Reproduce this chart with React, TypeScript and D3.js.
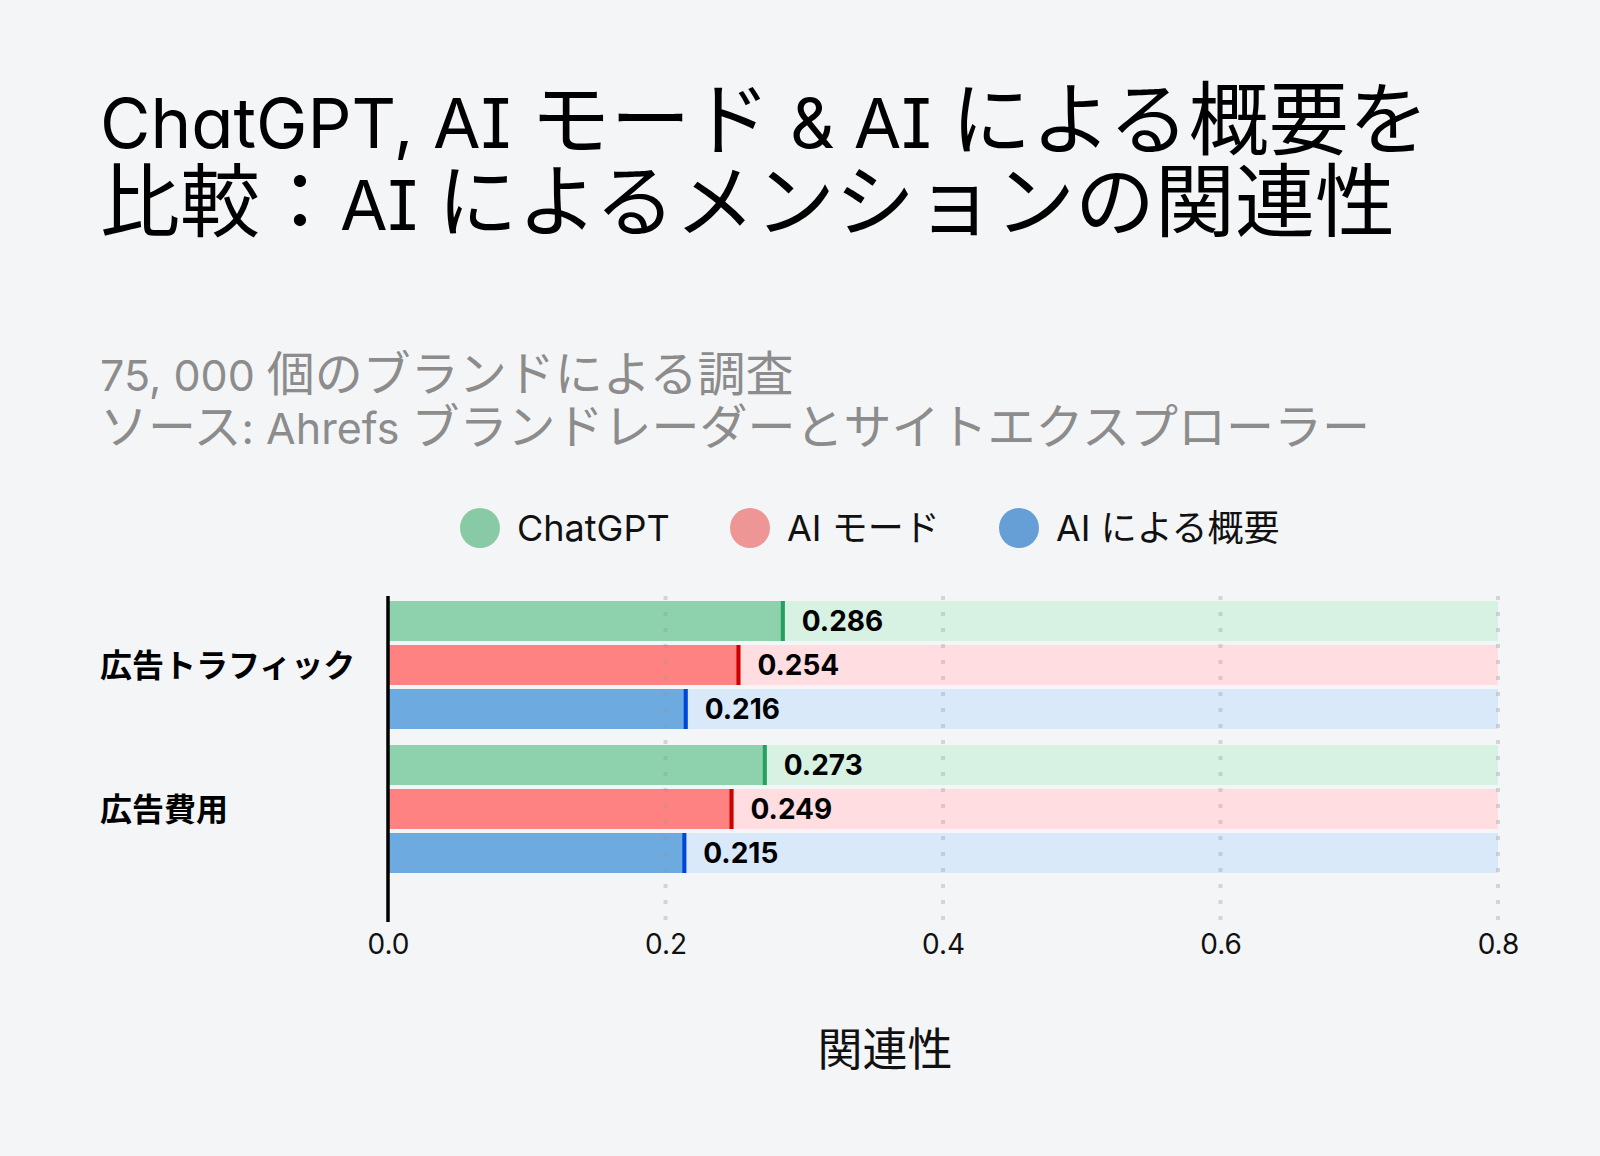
import React, { useEffect, useRef } from 'react';
import * as d3 from 'd3';

const titleLines = ['ChatGPT, AI モード & AI による概要を', '比較：AI によるメンションの関連性'];
const subtitleLines = ['75, 000 個のブランドによる調査', 'ソース: Ahrefs ブランドレーダーとサイトエクスプローラー'];
const categories = ['広告トラフィック', '広告費用'];
const seriesNames = ['ChatGPT', 'AI モード', 'AI による概要'];
const chatgptValues = [0.286, 0.273];
const aiModeValues = [0.254, 0.249];
const aiOverviewValues = [0.216, 0.215];
const xTicks = [0.0, 0.2, 0.4, 0.6, 0.8];

const barColors = ['#8ed1ad', '#ff8282', '#6caae0'];
const edgeColors = ['#25a060', '#d00000', '#0047d9'];
const trackColors = ['#d7f1e3', '#ffdde0', '#d9e9f9'];
const legendColors = ['#88c9a6', '#ee9595', '#669fd5'];

const WIDTH = 1600;
const HEIGHT = 1156;
const FONT = "Inter, 'Noto Sans CJK JP', sans-serif";
const CJK_FONT = "'Noto Sans CJK JP', sans-serif";

// split a string into latin / cjk runs so each can get its own font
function splitRuns(s: string) {
  const runs: { text: string; latin: boolean }[] = [];
  for (const ch of s) {
    const latin = ch.charCodeAt(0) < 0x2000;
    const last = runs[runs.length - 1];
    if (last && last.latin === latin) last.text += ch;
    else runs.push({ text: ch, latin });
  }
  return runs;
}

function App() {
  const svgRef = useRef<SVGSVGElement>(null);

  useEffect(() => {
    if (!svgRef.current) return;
    const svg = d3.select(svgRef.current);
    svg.selectAll('*').remove();

    svg.append('rect')
      .attr('width', WIDTH)
      .attr('height', HEIGHT)
      .attr('fill', '#f4f5f7');

    const mixedText = (line: string, y: number, latinSize: number, cjkSize: number, color: string) => {
      const t = svg.append('text')
        .attr('x', 100)
        .attr('y', y)
        .attr('fill', color);
      splitRuns(line).forEach(r => {
        t.append('tspan')
          .attr('font-family', r.latin ? FONT : CJK_FONT)
          .attr('font-size', r.latin ? latinSize : cjkSize)
          .style('font-feature-settings', r.latin ? '"cv08", "cv11"' : 'normal')
          .style('white-space', 'pre')
          .text(r.text);
      });
    };

    // Title
    titleLines.forEach((line, i) => mixedText(line, 148 + i * 82, 69, 80, '#000'));

    // Subtitle
    subtitleLines.forEach((line, i) => mixedText(line, 391 + i * 53, 43, 48, '#8c8c8c'));

    // Legend
    const legendX = [480, 750, 1019];
    seriesNames.forEach((name, i) => {
      svg.append('circle')
        .attr('cx', legendX[i])
        .attr('cy', 528)
        .attr('r', 20)
        .attr('fill', legendColors[i]);
      svg.append('text')
        .attr('x', legendX[i] + 37)
        .attr('y', 528)
        .attr('dy', '0.35em')
        .attr('font-family', FONT)
        .attr('font-size', 36)
        .attr('fill', '#111')
        .text(name);
    });

    // Scales
    const x = d3.scaleLinear().domain([0, 0.8]).range([388, 1498]);
    const y0 = d3.scaleBand<string>()
      .domain(categories)
      .range([593, 881])
      .paddingInner(16 / 144)
      .paddingOuter(8 / 144);
    const y1 = d3.scaleBand<string>()
      .domain(seriesNames)
      .range([0, y0.bandwidth()])
      .paddingInner(4 / 44);

    const valuesBySeries = [chatgptValues, aiModeValues, aiOverviewValues];
    const rows = categories.flatMap((cat, ci) =>
      seriesNames.map((s, si) => ({ cat, s, si, value: valuesBySeries[si][ci] }))
    );

    const g = svg.append('g');
    const rowY = (d: { cat: string; s: string }) => (y0(d.cat) ?? 0) + (y1(d.s) ?? 0);

    // Track backgrounds
    g.selectAll('.track')
      .data(rows)
      .enter().append('rect')
      .attr('x', x(0))
      .attr('y', rowY)
      .attr('width', x(0.8) - x(0))
      .attr('height', y1.bandwidth())
      .attr('fill', d => trackColors[d.si]);

    // Bars
    g.selectAll('.bar')
      .data(rows)
      .enter().append('rect')
      .attr('x', x(0))
      .attr('y', rowY)
      .attr('width', d => x(d.value) - x(0))
      .attr('height', y1.bandwidth())
      .attr('fill', d => barColors[d.si]);

    // Bar end markers
    g.selectAll('.edge')
      .data(rows)
      .enter().append('rect')
      .attr('x', d => x(d.value) - 4)
      .attr('y', rowY)
      .attr('width', 4)
      .attr('height', y1.bandwidth())
      .attr('fill', d => edgeColors[d.si]);

    // Gridlines
    const plotTop = 596;
    const plotBottom = 922;
    g.selectAll('.grid')
      .data(xTicks.filter(t => t > 0))
      .enter().append('line')
      .attr('x1', d => x(d))
      .attr('x2', d => x(d))
      .attr('y1', plotTop)
      .attr('y2', plotBottom)
      .attr('stroke', '#999')
      .attr('stroke-opacity', 0.35)
      .attr('stroke-width', 4)
      .attr('stroke-dasharray', '4 12');

    // Value labels
    g.selectAll('.val')
      .data(rows)
      .enter().append('text')
      .attr('x', d => x(d.value) + 17)
      .attr('y', d => rowY(d) + y1.bandwidth() / 2)
      .attr('dy', '0.36em')
      .attr('font-family', FONT)
      .attr('font-size', 28)
      .attr('font-weight', 'bold')
      .attr('fill', '#000')
      .text(d => d.value.toFixed(3));

    // Zero axis line
    g.append('line')
      .attr('x1', x(0))
      .attr('x2', x(0))
      .attr('y1', plotTop)
      .attr('y2', plotBottom)
      .attr('stroke', '#000')
      .attr('stroke-width', 3.5);

    // Category labels
    g.selectAll('.cat')
      .data(categories)
      .enter().append('text')
      .attr('x', 100)
      .attr('y', d => (y0(d) ?? 0) + y0.bandwidth() / 2)
      .attr('dy', '0.36em')
      .attr('font-family', FONT)
      .attr('font-size', 32)
      .attr('font-weight', 'bold')
      .attr('fill', '#000')
      .text(d => d);

    // X axis tick labels
    const xAxis = g.append('g')
      .attr('transform', `translate(0,${plotBottom})`)
      .call(d3.axisBottom(x).tickValues(xTicks).tickFormat(d3.format('.1f')).tickSize(0).tickPadding(12));
    xAxis.select('.domain').remove();
    xAxis.selectAll('text')
      .attr('font-family', FONT)
      .attr('font-size', 28)
      .attr('fill', '#111');

    // Axis title
    svg.append('text')
      .attr('x', 885)
      .attr('y', 1050)
      .attr('dy', '0.36em')
      .attr('text-anchor', 'middle')
      .attr('font-family', FONT)
      .attr('font-size', 45)
      .attr('fill', '#111')
      .text('関連性');
  }, []);

  return (
    <div style={{ position: 'absolute', left: 0, top: 0 }}>
      <svg ref={svgRef} width={WIDTH} height={HEIGHT} style={{ display: 'block' }}></svg>
    </div>
  );
}

export default App;
